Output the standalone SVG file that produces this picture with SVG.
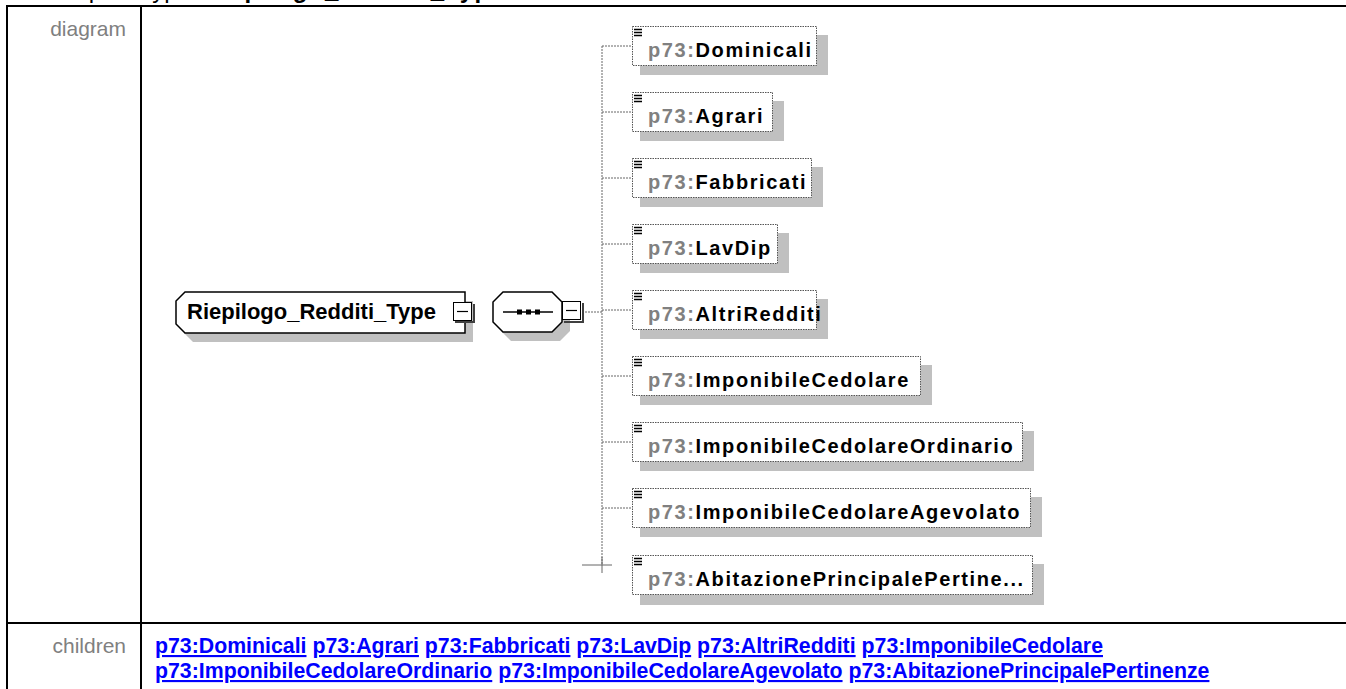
<svg xmlns="http://www.w3.org/2000/svg" width="1346" height="689" viewBox="0 0 1346 689">
<style>
.frame{stroke:#000;stroke-width:2;fill:none}
.hdr{font-family:"Liberation Sans",Arial,sans-serif;font-size:21px;fill:#808080}
.ttl{font-family:"Liberation Sans",Arial,sans-serif;font-size:24px;fill:#000}
.lnk{font-family:"Liberation Sans",Arial,sans-serif;font-size:21.3px;font-weight:bold;fill:#0000ff}
.u{text-decoration:underline}
.shadow{fill:#c0c0c0}
.box{fill:#fff;stroke:#555;stroke-width:1;stroke-dasharray:1.5 1}
.solid{fill:#fff;stroke:#000;stroke-width:1.5}
.ctext{font-family:"Liberation Sans",Arial,sans-serif;font-size:20px;font-weight:bold;letter-spacing:1.6px;fill:#000}
.pfx{fill:#808080}
.icon{stroke:#000;stroke-width:1.3}
.conn{stroke:#666;stroke-width:1;stroke-dasharray:2 1;fill:none}
.connS{stroke:#666;stroke-width:1;fill:none}
.tbtn{fill:#fff;stroke:#000;stroke-width:1}
.tsh{stroke:#404040;stroke-width:2;fill:none}
</style>
<rect width="1346" height="689" fill="#fff"/>
<text class="ttl" x="38" y="-2">Complex Type <tspan font-weight="bold" x="203" letter-spacing="1.4">Riepilogo_Redditi_Type</tspan></text>
<g id="table">
<line class="frame" x1="6" y1="6" x2="1346" y2="6"/>
<line class="frame" x1="7" y1="5" x2="7" y2="689"/>
<line class="frame" x1="141" y1="6" x2="141" y2="689"/>
<line class="frame" x1="6" y1="623" x2="1346" y2="623"/>
<text class="hdr" x="126" y="36" text-anchor="end">diagram</text>
<text class="hdr" x="126" y="653" text-anchor="end">children</text>
</g>
<g id="children-links">
<text class="lnk" x="155" y="653"><tspan class="u">p73:Dominicali</tspan> <tspan class="u">p73:Agrari</tspan> <tspan class="u">p73:Fabbricati</tspan> <tspan class="u">p73:LavDip</tspan> <tspan class="u">p73:AltriRedditi</tspan> <tspan class="u">p73:ImponibileCedolare</tspan></text>
<text class="lnk" x="155" y="678"><tspan class="u">p73:ImponibileCedolareOrdinario</tspan> <tspan class="u">p73:ImponibileCedolareAgevolato</tspan> <tspan class="u">p73:AbitazionePrincipalePertinenze</tspan></text>
</g>
<g id="connectors">
<line class="conn" x1="585" y1="312" x2="602" y2="312"/>
<line class="conn" x1="602" y1="46" x2="602" y2="565"/>
<line class="connS" x1="602" y1="557" x2="602" y2="573"/>
<line class="connS" x1="582" y1="565" x2="612" y2="565"/>
<line class="conn" x1="602" y1="46" x2="632" y2="46"/>
<line class="conn" x1="602" y1="112" x2="632" y2="112"/>
<line class="conn" x1="602" y1="178" x2="632" y2="178"/>
<line class="conn" x1="602" y1="244" x2="632" y2="244"/>
<line class="conn" x1="602" y1="310" x2="632" y2="310"/>
<line class="conn" x1="602" y1="376" x2="632" y2="376"/>
<line class="conn" x1="602" y1="442" x2="632" y2="442"/>
<line class="conn" x1="602" y1="508" x2="632" y2="508"/>
</g>
<g id="type-node">
<path class="shadow" d="M193,301 H473 V342 H193 L184,333 V310 Z"/>
<path class="solid" d="M185,292 H465 V333 H185 L176,324 V301 Z"/>
<text x="187" y="319" font-family="Liberation Sans,Arial,sans-serif" font-size="22" font-weight="bold">Riepilogo_Redditi_Type</text>
<polyline class="tsh" points="474,304 474,322 455,322"/>
<rect class="tbtn" x="453.5" y="302.5" width="18" height="18"/>
<line stroke="#000" stroke-width="1.2" x1="457" y1="311.5" x2="468" y2="311.5"/>
</g>
<g id="sequence-node">
<path class="shadow" d="M511,301 H560 L570,311 V331 L560,341 H511 L501,331 V311 Z"/>
<path class="solid" d="M503,292 H552 L562,302 V322 L552,332 H503 L493,322 V302 Z"/>
<line stroke="#000" stroke-width="1.3" x1="503" y1="312" x2="553" y2="312"/>
<rect x="517" y="309.5" width="5" height="5" fill="#000"/>
<rect x="526" y="309.5" width="5" height="5" fill="#000"/>
<rect x="535" y="309.5" width="5" height="5" fill="#000"/>
<polyline class="tsh" points="583,303 583,322 564,322"/>
<rect class="tbtn" x="562.5" y="301.5" width="18" height="18"/>
<line stroke="#000" stroke-width="1.2" x1="566" y1="310.5" x2="577" y2="310.5"/>
</g>
<g id="n-Dominicali">
<rect class="shadow" x="640" y="35" width="188" height="40"/>
<rect class="box" x="632.5" y="26.5" width="184" height="39"/>
<path class="icon" d="M634,29.5 H642 M634,32.5 H642 M634,35.5 H642"/>
<text class="ctext" x="648" y="57"><tspan class="pfx">p73:</tspan>Dominicali</text>
</g>
<g id="n-Agrari">
<rect class="shadow" x="640" y="101" width="144" height="40"/>
<rect class="box" x="632.5" y="92.5" width="140" height="39"/>
<path class="icon" d="M634,95.5 H642 M634,98.5 H642 M634,101.5 H642"/>
<text class="ctext" x="648" y="123"><tspan class="pfx">p73:</tspan>Agrari</text>
</g>
<g id="n-Fabbricati">
<rect class="shadow" x="640" y="167" width="183" height="40"/>
<rect class="box" x="632.5" y="158.5" width="179" height="39"/>
<path class="icon" d="M634,161.5 H642 M634,164.5 H642 M634,167.5 H642"/>
<text class="ctext" x="648" y="189"><tspan class="pfx">p73:</tspan>Fabbricati</text>
</g>
<g id="n-LavDip">
<rect class="shadow" x="640" y="233" width="149" height="40"/>
<rect class="box" x="632.5" y="224.5" width="145" height="39"/>
<path class="icon" d="M634,227.5 H642 M634,230.5 H642 M634,233.5 H642"/>
<text class="ctext" x="648" y="255"><tspan class="pfx">p73:</tspan>LavDip</text>
</g>
<g id="n-AltriRedditi">
<rect class="shadow" x="640" y="299" width="188" height="40"/>
<rect class="box" x="632.5" y="290.5" width="184" height="39"/>
<path class="icon" d="M634,293.5 H642 M634,296.5 H642 M634,299.5 H642"/>
<text class="ctext" x="648" y="321"><tspan class="pfx">p73:</tspan>AltriRedditi</text>
</g>
<g id="n-ImponibileCedolare">
<rect class="shadow" x="640" y="365" width="292" height="40"/>
<rect class="box" x="632.5" y="356.5" width="288" height="39"/>
<path class="icon" d="M634,359.5 H642 M634,362.5 H642 M634,365.5 H642"/>
<text class="ctext" x="648" y="387"><tspan class="pfx">p73:</tspan>ImponibileCedolare</text>
</g>
<g id="n-ImponibileCedolareOrdinario">
<rect class="shadow" x="640" y="431" width="394" height="40"/>
<rect class="box" x="632.5" y="422.5" width="390" height="39"/>
<path class="icon" d="M634,425.5 H642 M634,428.5 H642 M634,431.5 H642"/>
<text class="ctext" x="648" y="453"><tspan class="pfx">p73:</tspan>ImponibileCedolareOrdinario</text>
</g>
<g id="n-ImponibileCedolareAgevolato">
<rect class="shadow" x="640" y="497" width="402" height="40"/>
<rect class="box" x="632.5" y="488.5" width="398" height="39"/>
<path class="icon" d="M634,491.5 H642 M634,494.5 H642 M634,497.5 H642"/>
<text class="ctext" x="648" y="519"><tspan class="pfx">p73:</tspan>ImponibileCedolareAgevolato</text>
</g>
<g id="n-AbitazionePrincipalePertinenze">
<rect class="shadow" x="640" y="564" width="404" height="41"/>
<rect class="box" x="632.5" y="555.5" width="400" height="39"/>
<path class="icon" d="M634,558.5 H642 M634,561.5 H642 M634,564.5 H642"/>
<text class="ctext" x="648" y="586"><tspan class="pfx">p73:</tspan>AbitazionePrincipalePertine...</text>
</g>
</svg>
